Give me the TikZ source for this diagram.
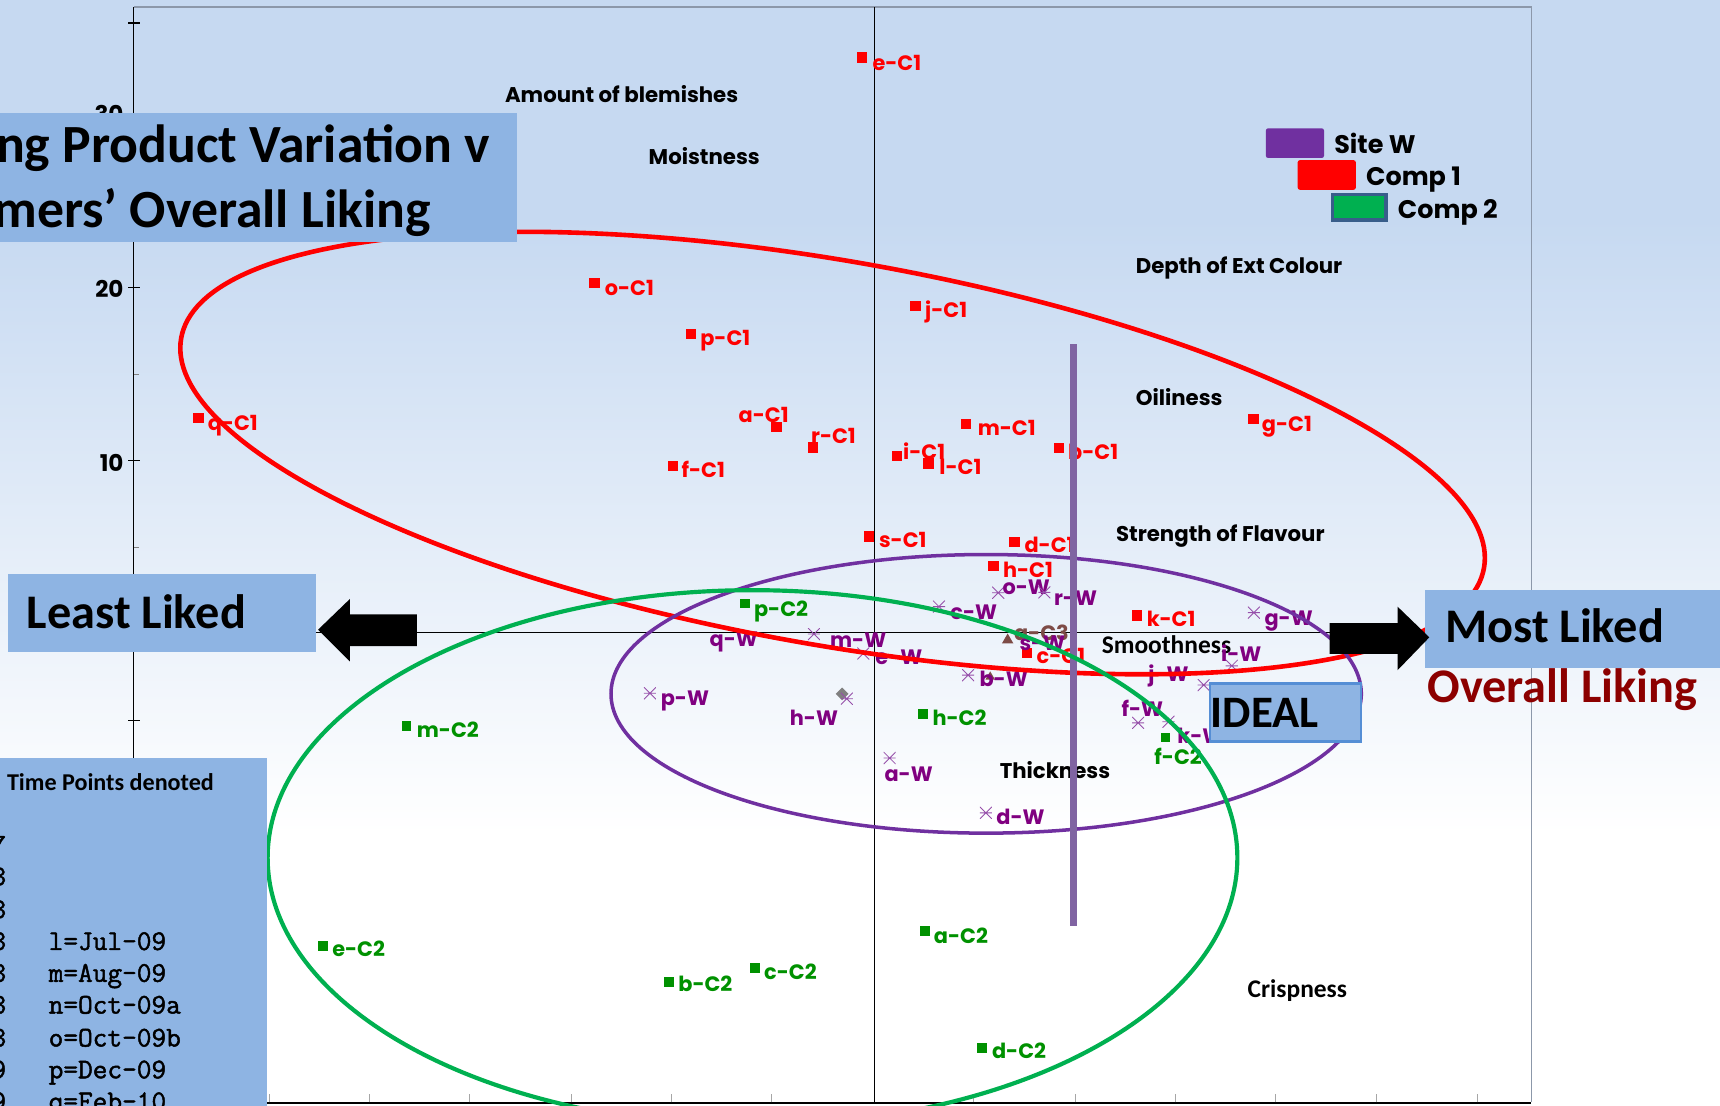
\documentclass[tikz,border=0pt]{standalone}
\usepackage{fontspec}
\newfontfamily\chartfont{Poppins}
\newfontfamily\calfont{Carlito}
\newfontfamily\codefont{Latin Modern Mono}[FakeBold=1.6]
\usetikzlibrary{shapes.geometric}

\definecolor{bgtop}{RGB}{198,217,241}
\definecolor{boxblue}{RGB}{142,180,227}
\definecolor{cOne}{RGB}{255,0,0}
\definecolor{cTwo}{RGB}{0,145,0}
\definecolor{ringgreen}{RGB}{0,176,80}
\definecolor{ringpurple}{RGB}{112,48,160}
\definecolor{barpurple}{RGB}{128,100,162}
\definecolor{wlab}{RGB}{128,0,128}
\definecolor{wmark}{RGB}{150,80,170}
\definecolor{cthree}{RGB}{125,75,70}
\definecolor{darkred}{RGB}{140,0,0}
\definecolor{framegrey}{RGB}{140,152,170}
\definecolor{idealedge}{RGB}{85,142,213}
\definecolor{legedge}{RGB}{56,93,138}

\newcommand\labfont{\chartfont\bfseries\fontsize{9.5}{11}\selectfont}
\newcommand\attrfont{\chartfont\bfseries\fontsize{9.7}{12}\selectfont}
\newcommand\legfont{\chartfont\bfseries\fontsize{11.6}{14}\selectfont}
\newcommand\axfont{\chartfont\bfseries\fontsize{10.5}{12}\selectfont}
\newcommand\calbig{\calfont\bfseries\fontsize{22}{26}\selectfont}

% one plotted sample: marker node and its label node
\newcommand\datum[6]{\node[#2] (#1m) at (#3) {}; \node[#4] (#1) at (#5) {#6};}

\tikzset{
  txt/.style={anchor=base west, inner sep=0},
  c1m/.style={fill=cOne, inner sep=0, minimum size=4.7pt},
  c1l/.style={txt, text=cOne, font=\labfont},
  c2m/.style={fill=cTwo, inner sep=0, minimum size=4.4pt},
  c2l/.style={txt, text=cTwo, font=\labfont},
  wm/.style={inner sep=0, minimum size=5.5pt,
    path picture={\draw[wmark, line width=0.4pt]
      (path picture bounding box.west) -- (path picture bounding box.east)
      (path picture bounding box.north west) -- (path picture bounding box.south east)
      (path picture bounding box.south west) -- (path picture bounding box.north east);}},
  wl/.style={txt, text=wlab, font=\labfont},
  c3m/.style={regular polygon, regular polygon sides=3, fill=cthree, inner sep=0, minimum size=6pt},
  attr/.style={txt, font=\attrfont},
  attrcal/.style={txt, font=\calfont\bfseries\fontsize{11.6}{13}\selectfont},
  leg/.style={txt, font=\legfont},
  axnum/.style={anchor=base east, inner sep=0, font=\axfont},
  boxtxt/.style={txt, font=\calbig},
  mono/.style={txt, font=\codefont\fontsize{13}{15}\selectfont},
  monoe/.style={mono, anchor=base east},
}

\begin{document}
\begin{tikzpicture}[x=0.5pt,y=-0.5pt]
\useasboundingbox (0,0) rectangle (1568,1008);
\clip (0,0) rectangle (1568,1008);

% background wash
\fill[bgtop] (0,0) rectangle (1568,200);
\shade[top color=bgtop, bottom color=white] (0,199.5) rectangle (1568,760);
\fill[white] (0,759.5) rectangle (1568,1008);

% plot frame and axes
\draw[framegrey, line width=0.6pt] (122,6.5) -- (1396,6.5) -- (1396,1005);
\draw[black, line width=0.5pt] (122,6.5) -- (122,1008);
\draw[black, line width=1pt] (122,1005.5) -- (1396,1005.5);
\draw[black, line width=0.5pt] (797,6.5) -- (797,1005);
\draw[black, line width=0.5pt] (122,577) -- (1396,577);
\foreach \ty in {21,104,262,420,657} \draw[black, line width=0.5pt] (117,\ty) -- (128,\ty);
\foreach \ty in {341,499} \draw[gray, line width=0.4pt] (122,\ty) -- (127,\ty);
\foreach \tx in {246,337,428,521,612,703,887,980,1072,1163,1255,1347}
  \draw[gray!70, line width=0.4pt] (\tx,1005) -- (\tx,997);

\node[axnum] (yThirty) at (113,112) {30};
\node[axnum] (yTwenty) at (113,271.5) {20};
\node[axnum] (yTen) at (113,430) {10};

% sensory attributes
\node[attr] (blem) at (460,93) {Amount of blemishes};
\node[attr] (moist) at (591,150) {Moistness};
\node[attr] (depth) at (1035,249) {Depth of Ext Colour};
\node[attr] (oil) at (1035,370) {Oiliness};
\node[attr] (flav) at (1017,494) {Strength of Flavour};
\node[attrcal] (smooth) at (1004,596) {Smoothness};
\node[attr] (thick) at (911,710) {Thickness};
\node[attrcal] (crisp) at (1137,909) {Crispness};

% legend
\fill[ringpurple, rounded corners=1] (1154,117) rectangle (1207,144);
\node[leg] (legW) at (1216,140) {Site W};
\fill[cOne, rounded corners=1] (1183,146) rectangle (1236,173);
\node[leg] (legA) at (1245,169) {Comp 1};
\draw[legedge, fill=ringgreen, line width=1.5pt] (1214.5,177.5) rectangle (1263.5,200.5);
\node[leg] (legB) at (1274,199) {Comp 2};

% competitor 1 samples
\datum{eCa}{c1m}{786,52.5}{c1l}{795,64}{e-C1}
\datum{oCa}{c1m}{542,258}{c1l}{551,269}{o-C1}
\datum{pCa}{c1m}{630,304.5}{c1l}{638,315}{p-C1}
\datum{qCa}{c1m}{181,381}{c1l}{189,392}{q-C1}
\datum{aCa}{c1m}{708,389}{c1l}{673,385}{a-C1}
\datum{rCa}{c1m}{741,408}{c1l}{739,404}{r-C1}
\datum{fCa}{c1m}{613.5,424.5}{c1l}{621,435}{f-C1}
\datum{jCa}{c1m}{834.5,279}{c1l}{843,289}{j-C1}
\datum{iCa}{c1m}{817.5,415.5}{c1l}{823,418.5}{i-C1}
\datum{lCa}{c1m}{846.5,422.5}{c1l}{856,433}{l-C1}
\datum{mCa}{c1m}{880.5,386.5}{c1l}{891,396.6}{m-C1}
\datum{bCa}{c1m}{965.5,408.5}{c1l}{973.4,418.6}{b-C1}
\datum{gCa}{c1m}{1142.6,382}{c1l}{1150,393.6}{g-C1}
\datum{sCa}{c1m}{792,489}{c1l}{801,499}{s-C1}
\datum{dCa}{c1m}{924.7,494}{c1l}{933.6,504}{d-C1}
\datum{hCa}{c1m}{905.6,516}{c1l}{914,526}{h-C1}
\datum{kCa}{c1m}{1036.6,561}{c1l}{1045,571}{k-C1}
\datum{cCa}{c1m}{936.5,595}{c1l}{944.7,604.6}{c-C1}

% competitor 2 samples
\datum{pCb}{c2m}{679,550}{c2l}{687,561.6}{p-C2}
\datum{mCb}{c2m}{370.5,661.8}{c2l}{379.6,672}{m-C2}
\datum{hCb}{c2m}{841.7,651}{c2l}{849.7,661}{h-C2}
\datum{fCb}{c2m}{1062.6,672.4}{c2l}{1052,696.5}{f-C2}
\datum{eCb}{c2m}{294.3,862.6}{c2l}{302.5,872}{e-C2}
\datum{aCb}{c2m}{843.4,849}{c2l}{851,860}{a-C2}
\datum{bCb}{c2m}{609.8,895}{c2l}{618,904}{b-C2}
\datum{cCb}{c2m}{688.4,882.3}{c2l}{696.3,892.6}{c-C2}
\datum{dCb}{c2m}{895.5,955.5}{c2l}{904,964.7}{d-C2}

% competitor 3 and reference markers
\datum{aCc}{c3m}{918.6,583.5}{txt, text=cthree, font=\labfont}{924,584}{a-C3}
\node[c3m, minimum size=5pt] (triB) at (902.7,617) {};
\node[diamond, fill=gray, inner sep=0, minimum size=6pt] (dia) at (767.7,632.6) {};

% site W samples
\datum{oW}{wm}{910,540.4}{wl}{913.5,541.6}{o-W}
\datum{rW}{wm}{952,540}{wl}{960.5,552}{r-W}
\datum{cW}{wm}{856,553}{wl}{866,565}{c-W}
\datum{qW}{wm}{742,578}{wl}{646.5,589}{q-W}
\node[wl] (mW) at (756.4,590) {m-W};
\datum{eW}{wm}{787,595.7}{wl}{797.6,606}{e-W}
\datum{pW}{wm}{592.5,632}{wl}{602,643}{p-W}
\datum{hW}{wm}{772,637}{wl}{719.7,661}{h-W}
\datum{bW}{wm}{882.5,615.5}{wl}{892.6,626}{b-W}
\datum{aW}{wm}{811,691}{wl}{806,712.7}{a-W}
\datum{dW}{wm}{898.8,741}{wl}{908,752}{d-W}
\node[wl] (sW) at (929,592.6) {s-W};
\datum{jW}{wm}{1097.3,624.5}{wl}{1046.5,621}{j-W}
\datum{iW}{wm}{1122.9,607}{wl}{1112.8,603}{i-W}
\datum{gW}{wm}{1143,558.5}{wl}{1152.4,569.8}{g-W}
\datum{fW}{wm}{1037.6,659}{wl}{1022,653.4}{f-W}
\datum{kW}{wm}{1065.2,658}{wl}{1073,677.7}{k-W}

% grouping rings and the ideal line
\draw[cOne, line width=2.1pt, rotate around={-10:(759,413)}] (759,413) ellipse [x radius=603, y radius=175];
\draw[ringpurple, line width=1.6pt] (899,632.5) ellipse [x radius=342, y radius=127];
\draw[barpurple, line width=3pt] (978.5,314) -- (978.5,844);
\draw[ringgreen, line width=1.9pt] (686,782) ellipse [x radius=442, y radius=244];

% callout boxes
\fill[boxblue] (0,103) rectangle (471,221);
\node[anchor=base east, inner sep=0, font=\calfont\bfseries\fontsize{24.5}{28}\selectfont] (titleA) at (447,148) {ng Product Variation v};
\node[anchor=base east, inner sep=0, font=\calfont\bfseries\fontsize{24.5}{28}\selectfont] (titleB) at (393,207) {mers’ Overall Liking};

\fill[boxblue] (7,523) rectangle (288,594);
\node[boxtxt] (least) at (24,572.5) {Least Liked};
\fill[black] (290,574) -- (319,546) -- (319,560) -- (380,560) -- (380,589) -- (319,589) -- (319,603) -- cycle;

\fill[boxblue] (1299,538) rectangle (1568,609);
\node[boxtxt] (most) at (1317,586) {Most Liked};
\fill[black] (1303,581) -- (1274,553) -- (1274,568) -- (1212,568) -- (1212,596) -- (1274,596) -- (1274,611) -- cycle;
\node[boxtxt, text=darkred] (liking) at (1301,640) {Overall Liking};

\draw[idealedge, fill=boxblue, line width=1pt] (1103,623) rectangle (1241,676);
\node[txt, font=\calfont\bfseries\fontsize{20.5}{24}\selectfont] (ideal) at (1103.5,663) {IDEAL};

\fill[boxblue] (0,691) rectangle (243,1008);
\node[txt, font=\calfont\bfseries\fontsize{11}{13}\selectfont] (tpHead) at (6,721) {Time Points denoted};
\foreach \ch/\by [count=\k] in {7/778,8/807,8/837,8/866,8/895,8/924,8/954,9/983,9/1012}
  \node[monoe] (tpL\k) at (6,\by) {\ch};
\node[mono] (tpl) at (44,866) {l=Jul-09};
\node[mono] (tpm) at (44,895) {m=Aug-09};
\node[mono] (tpn) at (44,924) {n=Oct-09a};
\node[mono] (tpo) at (44,954) {o=Oct-09b};
\node[mono] (tpp) at (44,983) {p=Dec-09};
\node[mono] (tpq) at (44,1012) {q=Feb-10};
\end{tikzpicture}
\end{document}
